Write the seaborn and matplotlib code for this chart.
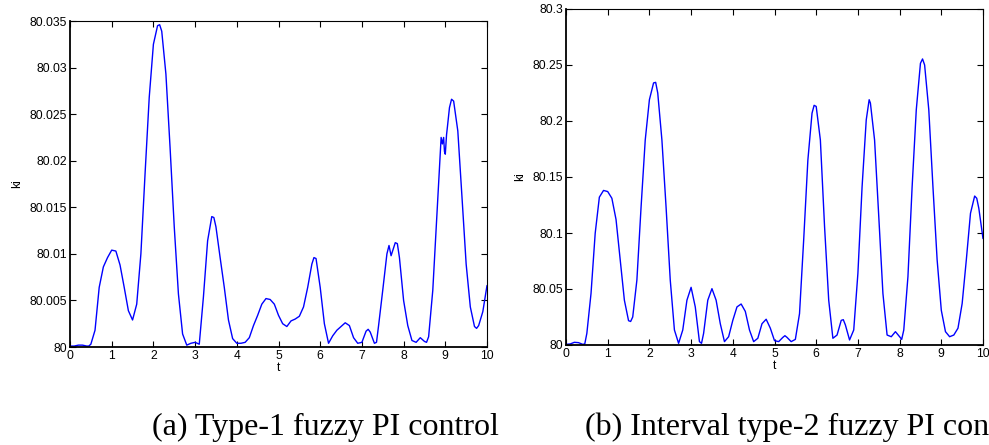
import numpy as np
import pandas as pd
import matplotlib
matplotlib.use("Agg")
import matplotlib.pyplot as plt
import seaborn as sns

# ---- data: (a) Type-1 fuzzy PI control ----
t_a = [0.0, 0.1, 0.2, 0.25, 0.3, 0.4, 0.45, 0.5, 0.6, 0.7, 0.8, 0.9, 1.0, 1.1, 1.2,
       1.3, 1.4, 1.5, 1.6, 1.7, 1.8, 1.9, 2.0, 2.1, 2.15, 2.2, 2.3, 2.4, 2.5, 2.6,
       2.7, 2.8, 2.9, 3.0, 3.1, 3.2, 3.3, 3.4, 3.45, 3.5, 3.6, 3.7, 3.8, 3.9, 4.0,
       4.1, 4.2, 4.3, 4.4, 4.5, 4.6, 4.7, 4.8, 4.9, 5.0, 5.1, 5.2, 5.3, 5.4, 5.5,
       5.6, 5.7, 5.8, 5.85, 5.9, 6.0, 6.1, 6.2, 6.3, 6.4, 6.5, 6.6, 6.7, 6.8, 6.9,
       7.0, 7.1, 7.15, 7.2, 7.3, 7.35, 7.4, 7.5, 7.6, 7.65, 7.7, 7.75, 7.8, 7.85,
       7.9, 8.0, 8.1, 8.2, 8.3, 8.4, 8.5, 8.55, 8.6, 8.7, 8.8, 8.9, 8.93, 8.96,
       8.98, 9.0, 9.03, 9.05, 9.1, 9.15, 9.2, 9.3, 9.4, 9.5, 9.6, 9.7, 9.75, 9.8,
       9.9, 10.0]
ki_a = [80.0001, 80.0001, 80.0002, 80.0002, 80.0002, 80.0001, 80.0001, 80.0003, 80.0018,
        80.0064, 80.0086, 80.0096, 80.0104, 80.0103, 80.0088, 80.0064, 80.0039, 80.0029,
        80.0046, 80.0100, 80.0186, 80.0268, 80.0325, 80.0345, 80.0346, 80.0339, 80.0293,
        80.0214, 80.0129, 80.0057, 80.0014, 80.0002, 80.0004, 80.0005, 80.0003, 80.0054,
        80.0114, 80.0140, 80.0139, 80.0129, 80.0096, 80.0064, 80.0029, 80.0009, 80.0004,
        80.0004, 80.0005, 80.0010, 80.0023, 80.0034, 80.0046, 80.0052, 80.0051, 80.0046,
        80.0034, 80.0025, 80.0022, 80.0028, 80.0030, 80.0033, 80.0043, 80.0064, 80.0089,
        80.0096, 80.0095, 80.0064, 80.0025, 80.0004, 80.0012, 80.0018, 80.0022, 80.0026,
        80.0023, 80.0010, 80.0004, 80.0005, 80.0017, 80.0019, 80.0016, 80.0004, 80.0005,
        80.0023, 80.0061, 80.0100, 80.0109, 80.0098, 80.0105, 80.0112, 80.0111, 80.0096,
        80.0050, 80.0023, 80.0007, 80.0005, 80.0010, 80.0006, 80.0005, 80.0011, 80.0061,
        80.0143, 80.0225, 80.0218, 80.0225, 80.0210, 80.0207, 80.0228, 80.0236, 80.0257,
        80.0266, 80.0264, 80.0232, 80.0161, 80.0089, 80.0043, 80.0022, 80.0020, 80.0023,
        80.0038, 80.0066]

# ---- data: (b) Interval type-2 fuzzy PI control ----
t_b = [0.0, 0.1, 0.2, 0.3, 0.4, 0.45, 0.5, 0.6, 0.7, 0.8, 0.9, 1.0, 1.1, 1.2, 1.3,
       1.4, 1.5, 1.55, 1.6, 1.7, 1.8, 1.9, 2.0, 2.1, 2.15, 2.2, 2.3, 2.4, 2.5, 2.6,
       2.7, 2.8, 2.9, 3.0, 3.1, 3.2, 3.25, 3.3, 3.4, 3.5, 3.6, 3.7, 3.8, 3.9, 4.0,
       4.1, 4.2, 4.3, 4.4, 4.5, 4.6, 4.7, 4.8, 4.9, 5.0, 5.1, 5.2, 5.25, 5.3, 5.4,
       5.5, 5.6, 5.7, 5.8, 5.9, 5.95, 6.0, 6.1, 6.2, 6.3, 6.4, 6.5, 6.6, 6.65, 6.7,
       6.8, 6.9, 7.0, 7.1, 7.2, 7.27, 7.3, 7.4, 7.5, 7.6, 7.7, 7.8, 7.9, 8.0, 8.05,
       8.1, 8.2, 8.3, 8.4, 8.5, 8.55, 8.6, 8.7, 8.8, 8.9, 9.0, 9.1, 9.2, 9.3, 9.4,
       9.5, 9.6, 9.7, 9.8, 9.85, 9.9, 10.0]
ki_b = [80.0006, 80.0009, 80.0024, 80.0021, 80.0006, 80.0009, 80.0104, 80.046, 80.0997,
        80.132, 80.138, 80.137, 80.131, 80.112, 80.076, 80.040, 80.0217, 80.021, 80.025,
        80.058, 80.123, 80.183, 80.219, 80.234, 80.2345, 80.225, 80.183, 80.123, 80.058,
        80.0134, 80.0015, 80.0134, 80.040, 80.0515, 80.034, 80.003, 80.0015, 80.0104,
        80.040, 80.0503, 80.040, 80.019, 80.003, 80.0074, 80.022, 80.034, 80.0366,
        80.030, 80.0134, 80.003, 80.006, 80.019, 80.023, 80.015, 80.0039, 80.003,
        80.0068, 80.0083, 80.0068, 80.003, 80.005, 80.028, 80.094, 80.165, 80.207,
        80.214, 80.213, 80.183, 80.106, 80.040, 80.006, 80.0089, 80.022, 80.0226,
        80.0179, 80.0045, 80.0134, 80.064, 80.141, 80.201, 80.219, 80.216, 80.183,
        80.115, 80.046, 80.0089, 80.0074, 80.0119, 80.0074, 80.005, 80.0134, 80.061,
        80.141, 80.210, 80.2515, 80.2554, 80.250, 80.210, 80.141, 80.076, 80.031,
        80.0119, 80.0074, 80.0089, 80.015, 80.037, 80.076, 80.1176, 80.133, 80.131,
        80.122, 80.095]

x_ticks = [0, 1, 2, 3, 4, 5, 6, 7, 8, 9, 10]
y_ticks_a = [80, 80.005, 80.01, 80.015, 80.02, 80.025, 80.03, 80.035]
y_tick_labels_a = ["80", "80.005", "80.01", "80.015", "80.02", "80.025", "80.03", "80.035"]
y_ticks_b = [80, 80.05, 80.1, 80.15, 80.2, 80.25, 80.3]
y_tick_labels_b = ["80", "80.05", "80.1", "80.15", "80.2", "80.25", "80.3"]
captions = ["(a) Type-1 fuzzy PI control", "(b) Interval type-2 fuzzy PI control"]

sns.set_style("ticks")
plt.rcParams["font.family"] = ["Liberation Sans", "DejaVu Sans"]
plt.rcParams["text.color"] = "black"
plt.rcParams["axes.labelcolor"] = "black"

fig = plt.figure(figsize=(9.89, 4.45), dpi=100)
ax1 = fig.add_axes([70 / 989, 1 - 347 / 445, 417 / 989, 326 / 445])
ax2 = fig.add_axes([566 / 989, 1 - 345 / 445, 417 / 989, 336 / 445])

df_a = pd.DataFrame({"t": t_a, "ki": ki_a})
df_b = pd.DataFrame({"t": t_b, "ki": ki_b})

for ax, df, yt, ytl in [(ax1, df_a, y_ticks_a, y_tick_labels_a),
                        (ax2, df_b, y_ticks_b, y_tick_labels_b)]:
    sns.lineplot(data=df, x="t", y="ki", ax=ax, color="#0000ff", linewidth=1.0,
                 sort=False, estimator=None)
    ax.set_xlim(0, 10)
    ax.set_ylim(yt[0], yt[-1])
    ax.set_xticks(x_ticks)
    ax.set_xticklabels([str(v) for v in x_ticks])
    ax.set_yticks(yt)
    ax.set_yticklabels(ytl)
    ax.tick_params(direction="in", length=4, width=0.8, top=True, right=True,
                   labelsize=8.7, colors="black", pad=2)
    ax.set_xlabel("t", fontsize=8.7, labelpad=0, color="black")
    ax.set_ylabel("ki", fontsize=8.7, labelpad=5, color="black")
    for side in ["top", "right", "left", "bottom"]:
        ax.spines[side].set_visible(True)
        ax.spines[side].set_color("black")
        ax.spines[side].set_linewidth(0.8)
    ax.spines["left"].set_linewidth(1.3)
    ax.spines["bottom"].set_linewidth(1.3)

fig.text(152 / 989, 1 - 435 / 445, captions[0], fontsize=23, color="black",
         family=["Liberation Serif", "DejaVu Serif"], ha="left", va="baseline")
fig.text(585 / 989, 1 - 435 / 445, captions[1], fontsize=23, color="black",
         family=["Liberation Serif", "DejaVu Serif"], ha="left", va="baseline")

fig.savefig("out.png", dpi=100, facecolor="white")
